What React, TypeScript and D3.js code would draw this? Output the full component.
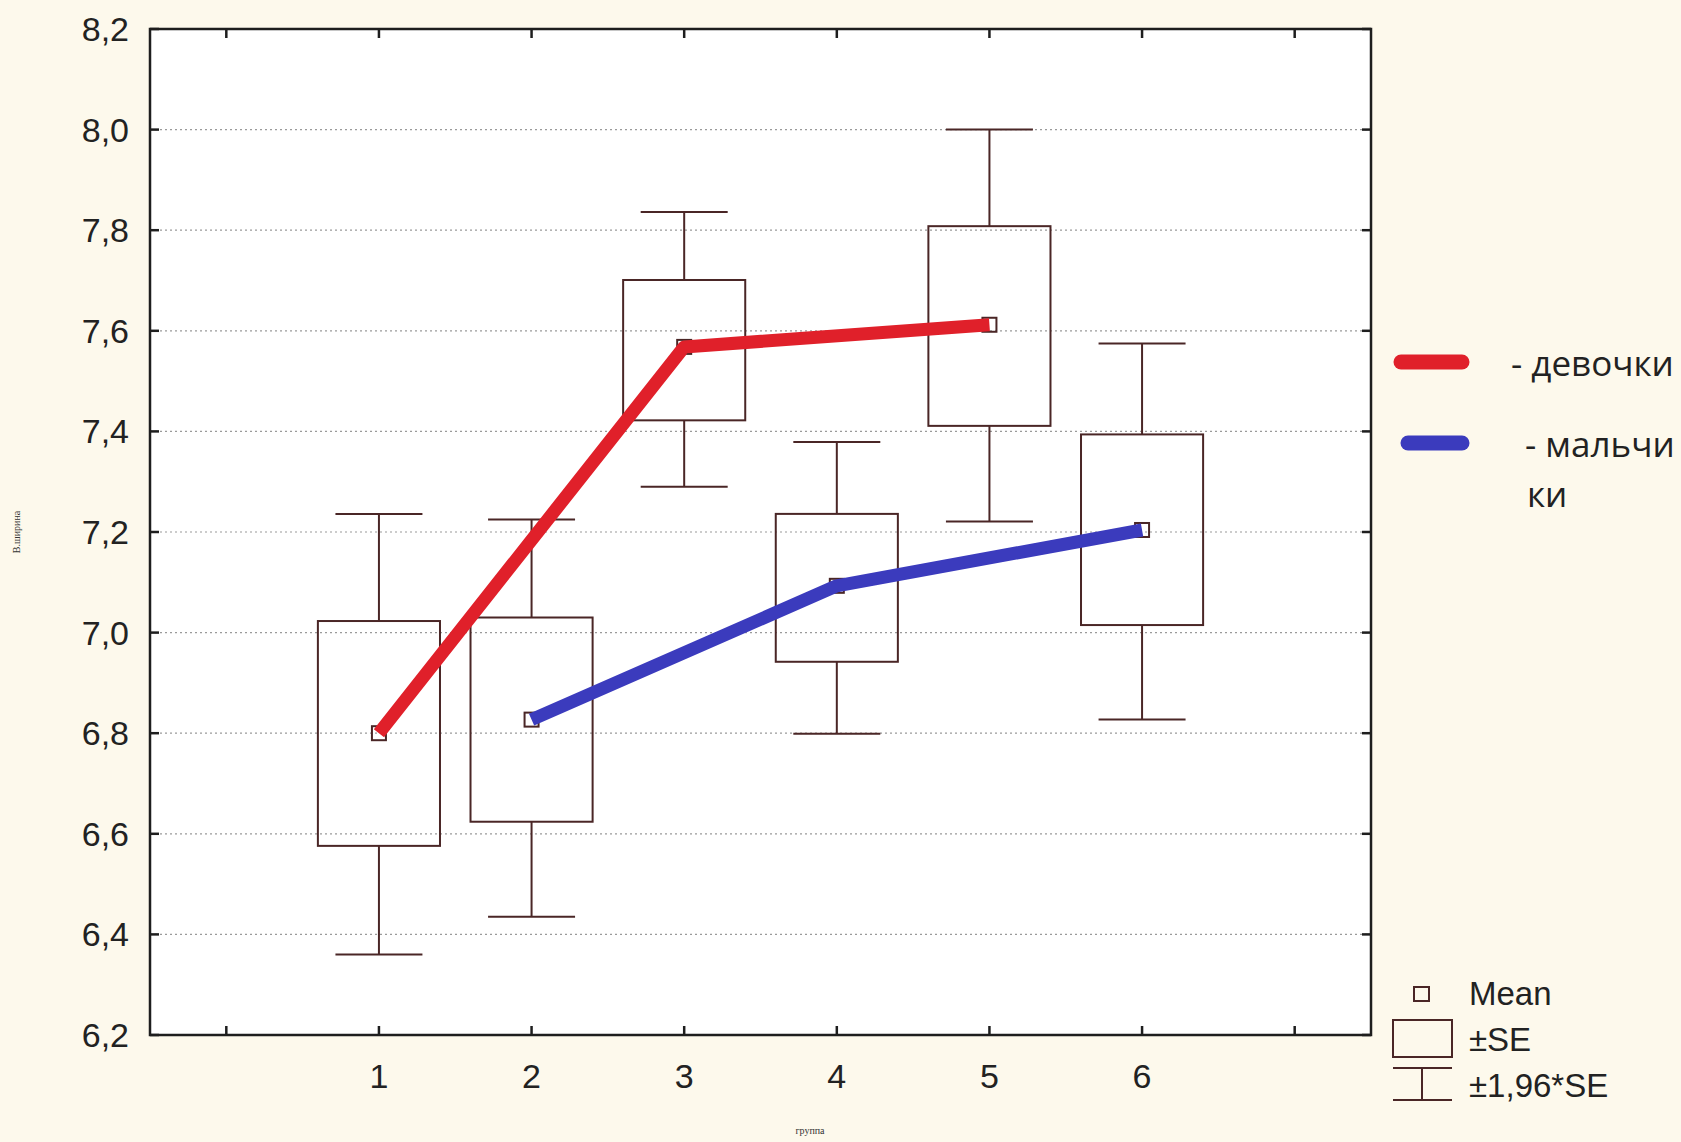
import React from "react";
import * as d3 from "d3";

const groups = [1, 2, 3, 4, 5, 6];
const means = [6.8, 6.827, 7.568, 7.093, 7.612, 7.204];
const seLow = [6.576, 6.624, 7.422, 6.942, 7.411, 7.015];
const seHigh = [7.023, 7.03, 7.701, 7.236, 7.808, 7.394];
const ciLow = [6.36, 6.435, 7.29, 6.799, 7.221, 6.827];
const ciHigh = [7.236, 7.225, 7.836, 7.379, 8.0, 7.575];
const girlsGroups = [1, 3, 5];
const boysGroups = [2, 4, 6];
const yTicks = [6.2, 6.4, 6.6, 6.8, 7.0, 7.2, 7.4, 7.6, 7.8, 8.0, 8.2];
const xTicks = [0, 1, 2, 3, 4, 5, 6, 7];
const xLabels = ["1", "2", "3", "4", "5", "6"];
const seriesLabels = ["- девочки", "- мальчи", "ки"];
const legendLabels = ["Mean", "±SE", "±1,96*SE"];

const W = 1681;
const H = 1142;
const L = 150, R = 1371, T = 29, B = 1035;

export default function App() {
  const x = d3.scaleLinear().domain([-0.5, 7.5]).range([L, R]);
  const y = d3.scaleLinear().domain([6.2, 8.2]).range([B, T]);
  const fmt = (v: number) => v.toFixed(1).replace(".", ",");
  const boxHalf = x(0.4) - x(0);
  const capHalf = x(0.285) - x(0);
  const edge = "#4a2626";
  const line = d3
    .line<number>()
    .x((g) => x(g))
    .y((g) => y(means[g - 1]));
  const tickFont = "'Liberation Sans', Arial, sans-serif";
  return (
    <svg
      width={W}
      height={H}
      style={{ position: "absolute", left: 0, top: 0 }}
      xmlns="http://www.w3.org/2000/svg"
    >
      <rect x={0} y={0} width={W} height={H} fill="#fdf9ec" />
      <rect x={L} y={T} width={R - L} height={B - T} fill="#ffffff" />
      {yTicks.slice(1, -1).map((v) => (
        <line
          key={"g" + v}
          x1={L}
          x2={R}
          y1={y(v)}
          y2={y(v)}
          stroke="#9a9a9a"
          strokeWidth={1.2}
          strokeDasharray="2,3"
        />
      ))}
      {groups.map((g, i) => (
        <g key={"b" + g} stroke={edge} strokeWidth={2} fill="none">
          <line x1={x(g)} x2={x(g)} y1={y(ciHigh[i])} y2={y(seHigh[i])} />
          <line x1={x(g)} x2={x(g)} y1={y(seLow[i])} y2={y(ciLow[i])} />
          <line x1={x(g) - capHalf} x2={x(g) + capHalf} y1={y(ciHigh[i])} y2={y(ciHigh[i])} />
          <line x1={x(g) - capHalf} x2={x(g) + capHalf} y1={y(ciLow[i])} y2={y(ciLow[i])} />
          <rect
            x={x(g) - boxHalf}
            y={y(seHigh[i])}
            width={2 * boxHalf}
            height={y(seLow[i]) - y(seHigh[i])}
          />
          <rect x={x(g) - 7} y={y(means[i]) - 7} width={14} height={14} />
        </g>
      ))}
      <path
        d={line(girlsGroups) || ""}
        fill="none"
        stroke="#e0202a"
        strokeWidth={13}
        strokeLinejoin="round"
      />
      <path
        d={line(boysGroups) || ""}
        fill="none"
        stroke="#3b3bbd"
        strokeWidth={13}
        strokeLinejoin="round"
      />
      <rect x={L} y={T} width={R - L} height={B - T} fill="none" stroke="#1e1e1e" strokeWidth={2.5} />
      {yTicks.map((v) => (
        <g key={"yt" + v} stroke="#1e1e1e" strokeWidth={2.5}>
          <line x1={L} x2={L + 9} y1={y(v)} y2={y(v)} />
          <line x1={R - 9} x2={R} y1={y(v)} y2={y(v)} />
        </g>
      ))}
      {xTicks.map((v) => (
        <g key={"xt" + v} stroke="#1e1e1e" strokeWidth={2.5}>
          <line x1={x(v)} x2={x(v)} y1={B} y2={B - 9} />
          <line x1={x(v)} x2={x(v)} y1={T} y2={T + 9} />
        </g>
      ))}
      {yTicks.map((v) => (
        <text
          key={"yl" + v}
          x={129}
          y={y(v) + 12}
          textAnchor="end"
          fontFamily={tickFont}
          fontSize={34}
          fill="#222"
        >
          {fmt(v)}
        </text>
      ))}
      {groups.map((g, i) => (
        <text
          key={"xl" + g}
          x={x(g)}
          y={1088}
          textAnchor="middle"
          fontFamily={tickFont}
          fontSize={34}
          fill="#222"
        >
          {xLabels[i]}
        </text>
      ))}
      <text x={810} y={1134} textAnchor="middle" fontFamily="serif" fontSize={10} fill="#333">
        группа
      </text>
      <text
        transform={`translate(20, 532) rotate(-90)`}
        textAnchor="middle"
        fontFamily="serif"
        fontSize={10}
        fill="#333"
      >
        В.ширина
      </text>
      <line x1={1401} x2={1462} y1={362} y2={362} stroke="#e0202a" strokeWidth={15} strokeLinecap="round" />
      <line x1={1408} x2={1462} y1={443} y2={443} stroke="#3b3bbd" strokeWidth={15} strokeLinecap="round" />
      <text x={1511} y={376} fontFamily="'Open Sans', sans-serif" fontSize={35} fill="#222">
        {seriesLabels[0]}
      </text>
      <text x={1525} y={457} fontFamily="'Open Sans', sans-serif" fontSize={35} fill="#222">
        {seriesLabels[1]}
      </text>
      <text x={1527} y={507} fontFamily="'Open Sans', sans-serif" fontSize={35} fill="#222">
        {seriesLabels[2]}
      </text>
      <g stroke={edge} strokeWidth={2} fill="none">
        <rect x={1414} y={987} width={15} height={14} />
        <rect x={1393} y={1020} width={59} height={37} />
        <line x1={1393} x2={1452} y1={1068} y2={1068} />
        <line x1={1393} x2={1452} y1={1100} y2={1100} />
        <line x1={1422} x2={1422} y1={1068} y2={1100} />
      </g>
      {legendLabels.map((t, i) => (
        <text
          key={t}
          x={1469}
          y={[1005, 1051, 1097][i]}
          fontFamily={tickFont}
          fontSize={33}
          fill="#222"
        >
          {t}
        </text>
      ))}
    </svg>
  );
}
